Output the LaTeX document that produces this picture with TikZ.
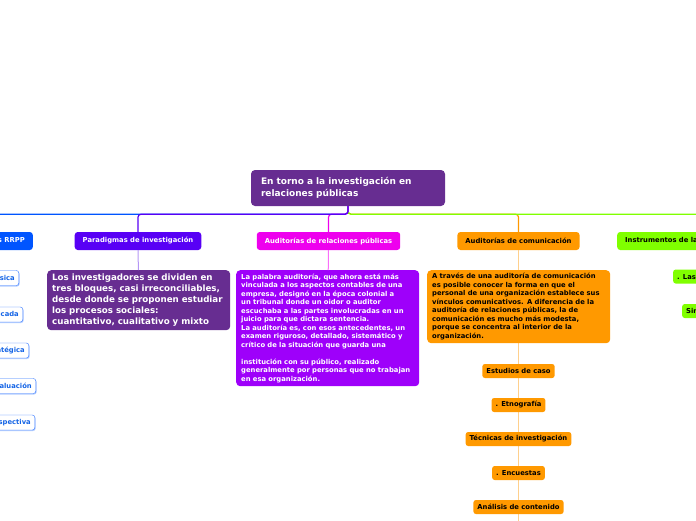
\documentclass[tikz,border=0pt]{standalone}
\usepackage{fontspec}
\setmainfont{DejaVu Sans}
\usetikzlibrary{shadows}

\definecolor{rootpurple}{RGB}{103,45,145}
\definecolor{rrppblue}{RGB}{0,85,255}
\definecolor{leafblue}{RGB}{20,100,230}
\definecolor{paraviolet}{RGB}{88,0,245}
\definecolor{paraline}{RGB}{180,150,245}
\definecolor{audmagenta}{RGB}{238,0,238}
\definecolor{audline}{RGB}{250,110,250}
\definecolor{audviolet}{RGB}{158,0,250}
\definecolor{comorange}{RGB}{255,153,0}
\definecolor{comline}{RGB}{255,208,140}
\definecolor{instgreen}{RGB}{128,255,0}

\begin{document}
\begin{tikzpicture}[x=1pt, y=-1pt,
    topic/.style={rounded corners=3pt, minimum height=18pt, inner xsep=8pt,
                  inner ysep=0pt, font=\fontsize{6.8}{8}\selectfont\bfseries},
    note/.style={rounded corners=4pt, anchor=north west, align=left,
                 text width=173pt, inner xsep=5pt, inner ysep=3pt,
                 font=\fontsize{6.8}{8.5}\selectfont\bfseries},
    subtopic/.style={draw=rrppblue!80, fill=white, rounded corners=2.5pt,
                     minimum height=15pt, inner xsep=4pt, inner ysep=0pt,
                     text=leafblue, font=\fontsize{6.8}{8}\selectfont\bfseries,
                     drop shadow={shadow xshift=0.8pt, shadow yshift=-1pt,
                                  fill=rrppblue!30, opacity=1}},
    orangeleaf/.style={fill=comorange, rounded corners=2.5pt, minimum height=14pt,
                       inner xsep=4pt, inner ysep=0pt,
                       font=\fontsize{6.8}{8}\selectfont\bfseries},
    greenleaf/.style={fill=instgreen, rounded corners=2.5pt, minimum height=14pt,
                      inner xsep=4pt, inner ysep=0pt, anchor=west,
                      font=\fontsize{6.8}{8}\selectfont\bfseries},
    branch/.style={line width=1.2pt, rounded corners=3pt},
    twig/.style={line width=1pt}]

  \useasboundingbox (0,0) rectangle (696,520);
  \clip (0,0) rectangle (696,520);

  % ---- central topic
  \node[fill=rootpurple, text=white, rounded corners=4pt, align=left,
        text width=174pt, inner xsep=10pt, minimum height=36pt,
        font=\fontsize{9}{12}\selectfont\bfseries] (root) at (348,188)
    {En torno a la investigación en\\relaciones públicas};

  % ---- main branches
  \node[topic, fill=rrppblue, text=white, anchor=east] (rrpp) at (33,241)
    {Tipos de investigación en las RRPP};
  \node[topic, fill=paraviolet, text=white] (para) at (138,241)
    {Paradigmas de investigación};
  \node[topic, fill=audmagenta, text=white] (aud) at (328.5,241)
    {Auditorías de relaciones públicas};
  \node[topic, fill=comorange] (com) at (518.5,241)
    {Auditorías de comunicación};
  \node[topic, fill=instgreen, anchor=west] (inst) at (617,241)
    {Instrumentos de la investigación social};

  \draw[branch, comorange] (root.south) -- ++(0,8) -| (com.north);
  \draw[branch, instgreen] (root.south) -- ++(0,8) -| (inst.north);
  \draw[branch, rrppblue] (root.south) -- ++(0,8) -| (rrpp.north);
  \draw[branch, audmagenta] (root.south) -- ++(0,8) -| (aud.north);
  \draw[branch, paraviolet] (root.south) -- ++(0,8) -| (para.north);

  % ---- tipos (left, cut by the frame)
  \node[subtopic, anchor=east] (basica) at (19,278) {Básica};
  \node[subtopic, anchor=east] (aplicada) at (23,314.5) {Aplicada};
  \node[subtopic, anchor=east] (estrategica) at (29,350.5) {Estratégica};
  \node[subtopic, anchor=east] (evaluacion) at (36,386) {Evaluación};
  \node[subtopic, anchor=east] (prospectiva) at (35,422.5) {Prospectiva};

  % ---- paradigmas
  \node[note, fill=rootpurple, text=white, minimum height=60pt,
        font=\fontsize{8.7}{11}\selectfont\bfseries] (paratext) at (47,270)
    {Los investigadores se dividen en\\
     tres bloques, casi irreconciliables,\\
     desde donde se proponen estudiar\\
     los procesos sociales:\\
     cuantitativo, cualitativo y mixto};
  \draw[twig, paraline] (para) -- (paratext);

  % ---- auditorías de relaciones públicas
  \node[note, fill=audviolet, text=white, minimum height=116pt] (audtext) at (236,270)
    {La palabra auditoría, que ahora está más\\
     vinculada a los aspectos contables de una\\
     empresa, designó en la época colonial a\\
     un tribunal donde un oidor o auditor\\
     escuchaba a las partes involucradas en un\\
     juicio para que dictara sentencia.\\
     La auditoría es, con esos antecedentes, un\\
     examen riguroso, detallado, sistemático y\\
     crítico de la situación que guarda una\\[8.5pt]
     institución con su público, realizado\\
     generalmente por personas que no trabajan\\
     en esa organización.};
  \draw[twig, audline] (aud) -- (audtext);

  % ---- auditorías de comunicación
  \coordinate (comend) at (518.5,525);
  \draw[twig, comline] (com) -- (comend);
  \node[note, fill=comorange, minimum height=73pt] (comtext) at (427,270)
    {A través de una auditoría de comunicación\\
     es posible conocer la forma en que el\\
     personal de una organización establece sus\\
     vínculos comunicativos. A diferencia de la\\
     auditoría de relaciones públicas, la de\\
     comunicación es mucho más modesta,\\
     porque se concentra al interior de la\\
     organización.};
  \node[orangeleaf] (caso) at (518.5,371) {Estudios de caso};
  \node[orangeleaf] (etno) at (518.5,405) {. Etnografía};
  \node[orangeleaf] (tecnicas) at (518.5,439) {Técnicas de investigación};
  \node[orangeleaf] (encuestas) at (518.5,473) {. Encuestas};
  \node[orangeleaf] (analisis) at (518.5,507) {Análisis de contenido};

  % ---- instrumentos (right, cut by the frame)
  \node[greenleaf] (entrevistas) at (673,276.5) {. Las entrevistas};
  \node[greenleaf] (simulacion) at (682,311) {Simulación};
\end{tikzpicture}
\end{document}
